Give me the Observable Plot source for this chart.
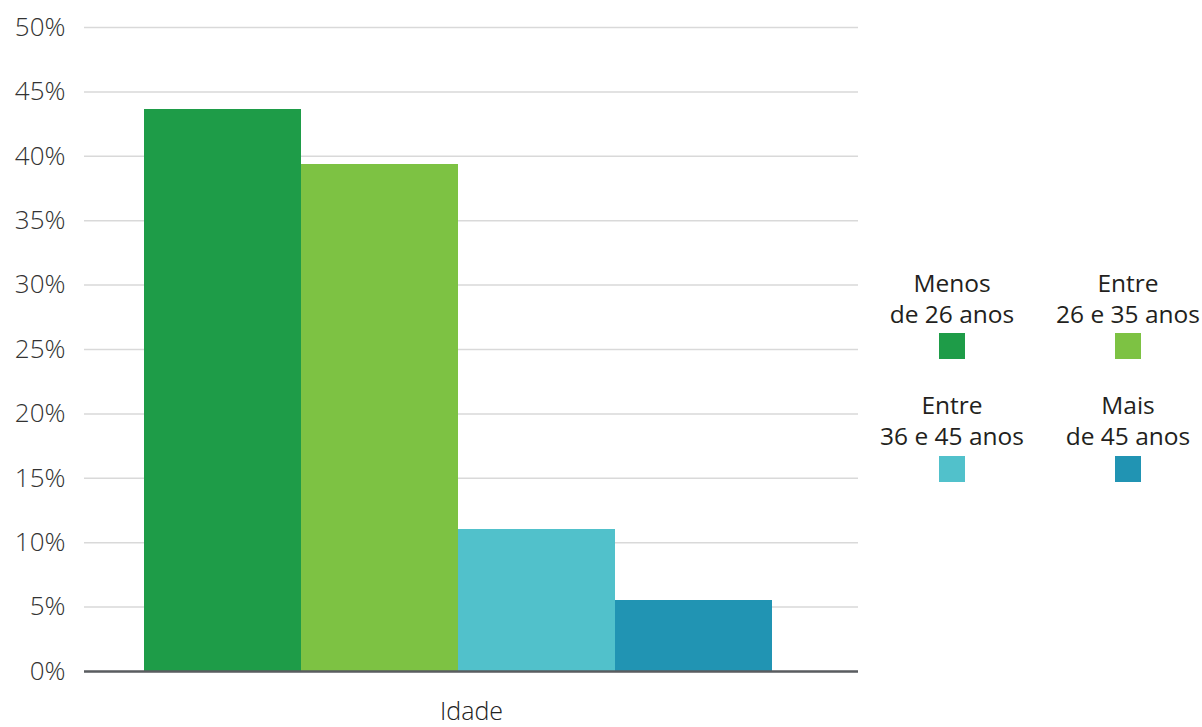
<!DOCTYPE html>
<html>
<head>
<meta charset="utf-8">
<script src="https://cdn.jsdelivr.net/npm/d3@7"></script>
<script src="https://cdn.jsdelivr.net/npm/@observablehq/plot@0.6"></script>
<style>
  html, body { margin: 0; padding: 0; background: #fff; }
  #wrap { position: relative; width: 1202px; height: 727px; font-family: "Open Sans", sans-serif; }
  #chart { position: absolute; left: 0; top: 0; }
  .leg { position: absolute; width: 180px; margin-left: -90px; text-align: center; font-size: 24.5px; line-height: 31px; color: #231f20; }
  .sw { position: absolute; width: 26px; height: 26px; margin-left: -13px; }
</style>
</head>
<body>
<div id="wrap"><div id="chart"></div></div>
<script>
const categories = ["Menos de 26 anos", "Entre 26 e 35 anos", "Entre 36 e 45 anos", "Mais de 45 anos"];
const values = [43.6, 39.4, 11.0, 5.5];
const colors = ["#1e9c48", "#7dc243", "#51c1cb", "#2194b3"];
const legendLines = [["Menos", "de 26 anos"], ["Entre", "26 e 35 anos"], ["Entre", "36 e 45 anos"], ["Mais", "de 45 anos"]];
const yTicks = [0, 5, 10, 15, 20, 25, 30, 35, 40, 45, 50];
const axisLabel = "Idade";

const data = categories.map((c, i) => ({cat: c, value: values[i]}));

const chart = Plot.plot({
  width: 870,
  height: 727,
  marginLeft: 84,
  marginRight: 12,
  marginTop: 27,
  marginBottom: 56,
  style: {fontFamily: "'Open Sans', sans-serif", color: "#333", background: "transparent", overflow: "visible"},
  x: {domain: categories, paddingInner: 0, paddingOuter: 0.461, align: 0.414, round: true, axis: null},
  y: {domain: [0, 50], axis: null},
  color: {domain: categories, range: colors},
  marks: [
    Plot.gridY(yTicks, {stroke: "#d9d9d9", strokeOpacity: 1, strokeWidth: 1.5}),
    Plot.barY(data, {x: "cat", y: "value", fill: "cat", inset: 0, shapeRendering: "crispEdges"}),
    Plot.ruleY([0], {stroke: "#5a5d60", strokeWidth: 2.5}),
    Plot.axisY(yTicks, {tickSize: 0, tickPadding: 19, tickFormat: d => d + "%", fontSize: 26, fontWeight: 300, fill: "#333", label: null}),
    Plot.text([axisLabel], {frameAnchor: "bottom", lineAnchor: "middle", dy: 40, fontSize: 25, fontWeight: 300, fill: "#222"})
  ]
});
document.getElementById("chart").appendChild(chart);

const colX = [952, 1128, 952, 1128];
const textTop = [267, 267, 389, 389];
const swTop = [333, 333, 456, 456];
const wrap = document.getElementById("wrap");
categories.forEach((c, i) => {
  const t = document.createElement("div");
  t.className = "leg";
  t.style.left = colX[i] + "px";
  t.style.top = textTop[i] + "px";
  t.innerHTML = legendLines[i].join("<br>");
  wrap.appendChild(t);
  const s = document.createElement("div");
  s.className = "sw";
  s.style.left = colX[i] + "px";
  s.style.top = swTop[i] + "px";
  s.style.background = colors[i];
  wrap.appendChild(s);
});
</script>
</body>
</html>
